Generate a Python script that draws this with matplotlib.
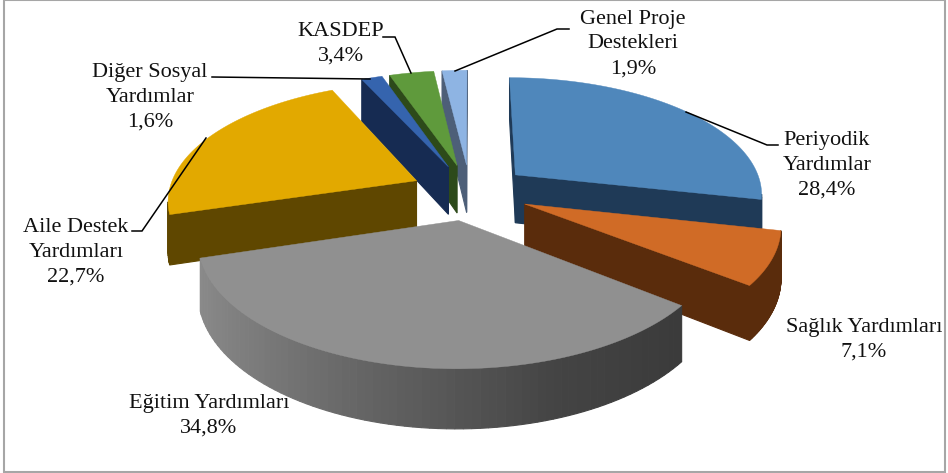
import numpy as np
import matplotlib
matplotlib.use('Agg')
import matplotlib.pyplot as plt
from matplotlib.colors import LinearSegmentedColormap
from matplotlib.patches import Rectangle

categories = ['Periyodik\nYardımlar', 'Sağlık Yardımları', 'Eğitim Yardımları', 'Aile Destek\nYardımları',
              'Diğer Sosyal\nYardımlar', 'KASDEP', 'Genel Proje\nDestekleri']
values = [28.4, 7.1, 34.8, 22.7, 1.6, 3.4, 1.9]
value_labels = ['28,4%', '7,1%', '34,8%', '22,7%', '1,6%', '3,4%', '1,9%']

top_colors = ['#4f87bb', '#d06b26', '#909090', '#e2a900', '#3564ae', '#5f9a3c', '#8eb4e3']
wall_colors = [('#1f3a57', '#1f3a57'), ('#5a2c0c', '#5a2c0c'), ('#8c8c8c', '#666666', '#444444', '#363636'),
               ('#5f4700', '#5f4700'), ('#162b52', '#162b52'), ('#2d4a1a', '#2d4a1a'), ('#4d5f78', '#4d5f78')]

# Pie geometry (pixels)
CX, CY = 470, 192
RX, RY = 248, 116.5
PERSP = 0.15
EXPLODE = 0.24
DEPTH = 49


def project(u, v, drop=0.0):
    w = 1 + PERSP * v
    return CX + RX * u / w, CY - RY * v / w + drop * DEPTH / w


def slice_faces(start, end):
    mid = (start + end) / 2
    ou, ov = EXPLODE * np.sin(mid), EXPLODE * np.cos(mid)
    ang = np.linspace(start, end, 80)
    return ang, ou + np.sin(ang), ov + np.cos(ang), ou, ov


def draw_wall(ax, u0, v0, u1, v1, color):
    x0, y0 = project(u0, v0)
    x1, y1 = project(u1, v1)
    x2, y2 = project(u1, v1, 1)
    x3, y3 = project(u0, v0, 1)
    xs = np.array([x0, x1, x2, x3])
    ys = np.array([y0, y1, y2, y3])
    # y axis points down, so a wall facing the viewer has negative area
    if 0.5 * np.sum(xs * np.roll(ys, -1) - np.roll(xs, -1) * ys) < 0:
        ax.fill(xs, ys, color=color, lw=0.8)


fig = plt.figure(figsize=(9.48, 4.73), dpi=100)
ax = fig.add_axes([0, 0, 1, 1])
ax.set_xlim(0, 948)
ax.set_ylim(473, 0)
ax.axis('off')
ax.add_patch(Rectangle((4, 0.5), 941.5, 471, fc='white', ec='#a6a6a6', lw=1.5))

fracs = np.array(values) / sum(values)
edges = np.concatenate([[0], np.cumsum(fracs)]) * 2 * np.pi

# back to front
draw_order = [6, 5, 4, 0, 3, 1, 2]
for i in draw_order:
    ang, us, vs, ou, ov = slice_faces(edges[i], edges[i + 1])
    cmap = LinearSegmentedColormap.from_list('wall', wall_colors[i])

    draw_wall(ax, ou, ov, us[0], vs[0], wall_colors[i][0])
    draw_wall(ax, us[-1], vs[-1], ou, ov, wall_colors[i][0])

    for k in range(len(ang) - 1):
        t = (1 + np.sin((ang[k] + ang[k + 1]) / 2)) / 2
        draw_wall(ax, us[k], vs[k], us[k + 1], vs[k + 1], cmap(t))

    tx, ty = project(np.concatenate([[ou], us]), np.concatenate([[ov], vs]))
    ax.fill(tx, ty, color=top_colors[i], lw=0.3)

# leader lines
leaders = [([686, 767, 778], [112, 145, 145]),
           ([206, 142, 132], [138, 231, 231]),
           ([212, 370], [77, 79]),
           ([383, 395, 411], [37, 37, 73]),
           ([455, 557, 569], [71, 29, 29])]
for lx, ly in leaders:
    ax.plot(lx, ly, color='black', lw=1.1, solid_joinstyle='miter')

label_pos = [(827, 165), (864, 340), (209, 416), (76, 252), (150, 97), (341, 44), (633, 44)]
for name, val, (lx, ly) in zip(categories, value_labels, label_pos):
    ax.text(lx, ly, name + '\n' + val, ha='center', va='center', fontsize=16,
            family='Liberation Serif', color='#111111', linespacing=1.42)

fig.savefig('out.png', dpi=100)
